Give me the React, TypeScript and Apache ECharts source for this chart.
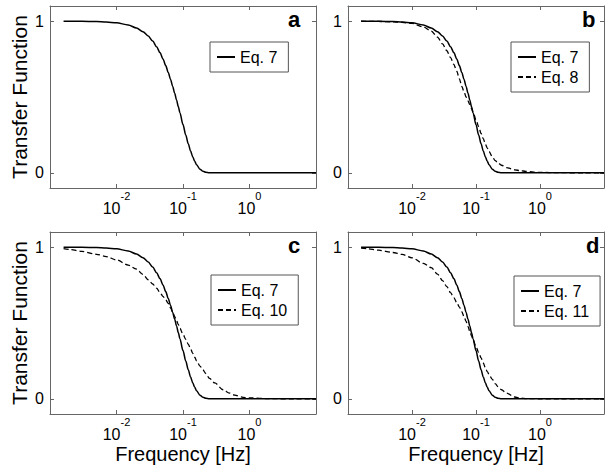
import React, { useEffect, useRef } from "react";
import * as echarts from "echarts";

const freq = [
  0.0016, 0.002, 0.003, 0.005, 0.007, 0.01, 0.015, 0.02, 0.025, 0.03, 0.035,
  0.04, 0.045, 0.05, 0.055, 0.06, 0.065, 0.07, 0.075, 0.08, 0.085, 0.09, 0.1,
  0.11, 0.12, 0.13, 0.14, 0.15, 0.16, 0.18, 0.2, 0.22, 0.25, 0.3, 0.4, 0.5,
  0.6, 0.8, 1, 2, 5, 10,
];

const eq7 = [
  1.0, 1.0, 0.999, 0.997, 0.994, 0.989, 0.975, 0.955, 0.931, 0.902, 0.869,
  0.832, 0.793, 0.751, 0.707, 0.662, 0.616, 0.57, 0.525, 0.48, 0.437, 0.395,
  0.318, 0.25, 0.192, 0.144, 0.106, 0.076, 0.053, 0.024, 0.01, 0.004, 0.001,
  0, 0, 0, 0, 0, 0, 0, 0, 0,
];

const eq8 = [
  1.0, 0.999, 0.998, 0.996, 0.992, 0.985, 0.962, 0.935, 0.895, 0.85, 0.805,
  0.76, 0.715, 0.67, 0.62, 0.57, 0.535, 0.5, 0.475, 0.45, 0.425, 0.4, 0.35,
  0.305, 0.26, 0.225, 0.19, 0.163, 0.14, 0.105, 0.08, 0.066, 0.05, 0.035,
  0.02, 0.014, 0.01, 0.005, 0.003, 0.001, 0, 0,
];

const eq10 = [
  0.99, 0.985, 0.972, 0.953, 0.938, 0.916, 0.882, 0.855, 0.82, 0.785, 0.757,
  0.73, 0.702, 0.675, 0.652, 0.63, 0.6, 0.57, 0.542, 0.515, 0.49, 0.465,
  0.425, 0.392, 0.36, 0.33, 0.3, 0.275, 0.25, 0.216, 0.19, 0.167, 0.135,
  0.105, 0.06, 0.038, 0.024, 0.01, 0.006, 0.001, 0, 0,
];

const eq11 = [
  0.993, 0.99, 0.98, 0.965, 0.952, 0.93, 0.893, 0.865, 0.822, 0.78, 0.74,
  0.7, 0.667, 0.635, 0.605, 0.575, 0.542, 0.51, 0.477, 0.445, 0.417, 0.39,
  0.345, 0.305, 0.27, 0.237, 0.205, 0.18, 0.16, 0.128, 0.1, 0.08, 0.06,
  0.038, 0.012, 0.004, 0.002, 0.001, 0, 0, 0, 0,
];

const panelLetters = ["a", "b", "c", "d"];
const comparisonNames = ["", "Eq. 8", "Eq. 10", "Eq. 11"];
const referenceName = "Eq. 7";
const yTicks = [0, 1];
const xLabelExponents = [-2, -1, 0];
const yAxisTitle = "Transfer Function";
const xAxisTitle = "Frequency [Hz]";

const FONT = "'Liberation Sans', Arial, Helvetica, sans-serif";
const AXIS_COLOR = "#666";

export default function App() {
  const ref = useRef<HTMLDivElement>(null);

  useEffect(() => {
    if (!ref.current) return;
    const chart = echarts.init(ref.current, null, { renderer: "svg" });

    const grids = [
      { left: 50, top: 6, width: 266, height: 182 },
      { left: 348, top: 6, width: 266, height: 182 },
      { left: 50, top: 232, width: 266, height: 182 },
      { left: 348, top: 232, width: 266, height: 182 },
    ];
    const comparisons = [null, eq8, eq10, eq11];
    const letterPos = [
      { left: 288, top: 8 },
      { left: 582, top: 8 },
      { left: 288, top: 234 },
      { left: 586, top: 234 },
    ];
    const legendPos = [
      { left: 210, top: 42 },
      { left: 511, top: 42 },
      { left: 211, top: 275 },
      { left: 514, top: 276 },
    ];

    const xAxis: any[] = [];
    const yAxis: any[] = [];
    const series: any[] = [];
    const legend: any[] = [];

    grids.forEach((g, i) => {
      const isBottom = i >= 2;
      const isLeft = i % 2 === 0;
      xAxis.push({
        type: "log",
        logBase: 10,
        gridIndex: i,
        min: 0.001,
        max: 10,
        position: "bottom",
        axisLine: { show: true, onZero: false, lineStyle: { color: AXIS_COLOR, width: 1 } },
        axisTick: { show: true, inside: true, length: 4, lineStyle: { color: AXIS_COLOR } },
        minorTick: { show: false },
        splitLine: { show: false },
        axisLabel: {
          show: true,
          margin: 2,
          showMinLabel: true,
          showMaxLabel: true,
          formatter: (v: number) => {
            const e = Math.round(Math.log10(v));
            if (!xLabelExponents.includes(e)) return "";
            return `{b|10}{s|${e}}`;
          },
          rich: {
            b: { fontSize: 16, lineHeight: 26, verticalAlign: "bottom", color: "#000", fontFamily: FONT },
            s: { fontSize: 11, lineHeight: 8, verticalAlign: "top", color: "#000", fontFamily: FONT },
          },
        },
        name: isBottom ? xAxisTitle : "",
        nameLocation: "middle",
        nameGap: 30,
        nameTextStyle: { fontSize: 20, color: "#000", fontFamily: FONT },
      });
      xAxis.push({
        type: "log",
        logBase: 10,
        gridIndex: i,
        min: 0.001,
        max: 10,
        position: "top",
        axisLine: { show: true, onZero: false, lineStyle: { color: AXIS_COLOR, width: 1 } },
        axisTick: { show: true, inside: true, length: 4, lineStyle: { color: AXIS_COLOR } },
        minorTick: { show: false },
        splitLine: { show: false },
        axisLabel: { show: false },
      });
      yAxis.push({
        type: "value",
        gridIndex: i,
        min: -0.1,
        max: 1.1,
        position: "left",
        axisLine: { show: true, onZero: false, lineStyle: { color: AXIS_COLOR, width: 1 } },
        axisTick: { show: true, inside: true, length: 4, customValues: yTicks, lineStyle: { color: AXIS_COLOR } },
        axisLabel: {
          show: true,
          customValues: yTicks,
          margin: 6,
          fontSize: 16,
          color: "#000",
          fontFamily: FONT,
        },
        splitLine: { show: false },
        name: isLeft ? yAxisTitle : "",
        nameLocation: "middle",
        nameRotate: 90,
        nameGap: 20,
        nameTextStyle: { fontSize: 21, color: "#000", fontFamily: FONT },
      });
      yAxis.push({
        type: "value",
        gridIndex: i,
        min: -0.1,
        max: 1.1,
        position: "right",
        axisLine: { show: true, onZero: false, lineStyle: { color: AXIS_COLOR, width: 1 } },
        axisTick: { show: true, inside: true, length: 4, customValues: yTicks, lineStyle: { color: AXIS_COLOR } },
        axisLabel: { show: false },
        splitLine: { show: false },
      });

      series.push({
        type: "line",
        name: referenceName,
        xAxisIndex: 2 * i,
        yAxisIndex: 2 * i,
        data: freq.map((f, k) => [f, eq7[k]]),
        symbol: "none",
        smooth: 0.3,
        smoothMonotone: "x",
        lineStyle: { color: "#000", width: 1.5, type: "solid" },
        itemStyle: { color: "#000" },
        silent: true,
        z: 3,
      });
      const comp = comparisons[i];
      if (comp) {
        series.push({
          type: "line",
          name: comparisonNames[i],
          xAxisIndex: 2 * i,
          yAxisIndex: 2 * i,
          data: freq.map((f, k) => [f, comp[k]]),
          symbol: "none",
          smooth: 0.3,
          smoothMonotone: "x",
          lineStyle: { color: "#000", width: 1.3, type: [5, 3] },
          itemStyle: { color: "#000" },
          silent: true,
          z: 2,
        });
      }

      legend.push({
        data: comp ? [referenceName, comparisonNames[i]] : [referenceName],
        left: legendPos[i].left,
        top: legendPos[i].top,
        orient: "vertical",
        selectedMode: false,
        backgroundColor: "#fff",
        borderColor: "#555",
        borderWidth: 1,
        borderRadius: 0,
        padding: [6, 11, 6, 6],
        itemGap: 2,
        itemWidth: 18,
        itemHeight: 14,
        itemStyle: { opacity: 0 },
        textStyle: { fontSize: 16, lineHeight: 18, color: "#000", fontFamily: FONT },
      });
    });

    chart.setOption({
      animation: false,
      backgroundColor: "#fff",
      textStyle: { fontFamily: FONT },
      grid: grids.map((g) => ({ ...g, containLabel: false })),
      title: panelLetters.map((t, i) => ({
        text: t,
        left: letterPos[i].left,
        top: letterPos[i].top,
        padding: 0,
        textStyle: { fontSize: 22, fontWeight: "bold", color: "#000", fontFamily: FONT },
      })),
      legend,
      xAxis,
      yAxis,
      series,
    });

    return () => chart.dispose();
  }, []);

  return (
    <div
      ref={ref}
      style={{ position: "absolute", left: 0, top: 0, width: 607, height: 470, background: "#fff" }}
    />
  );
}
